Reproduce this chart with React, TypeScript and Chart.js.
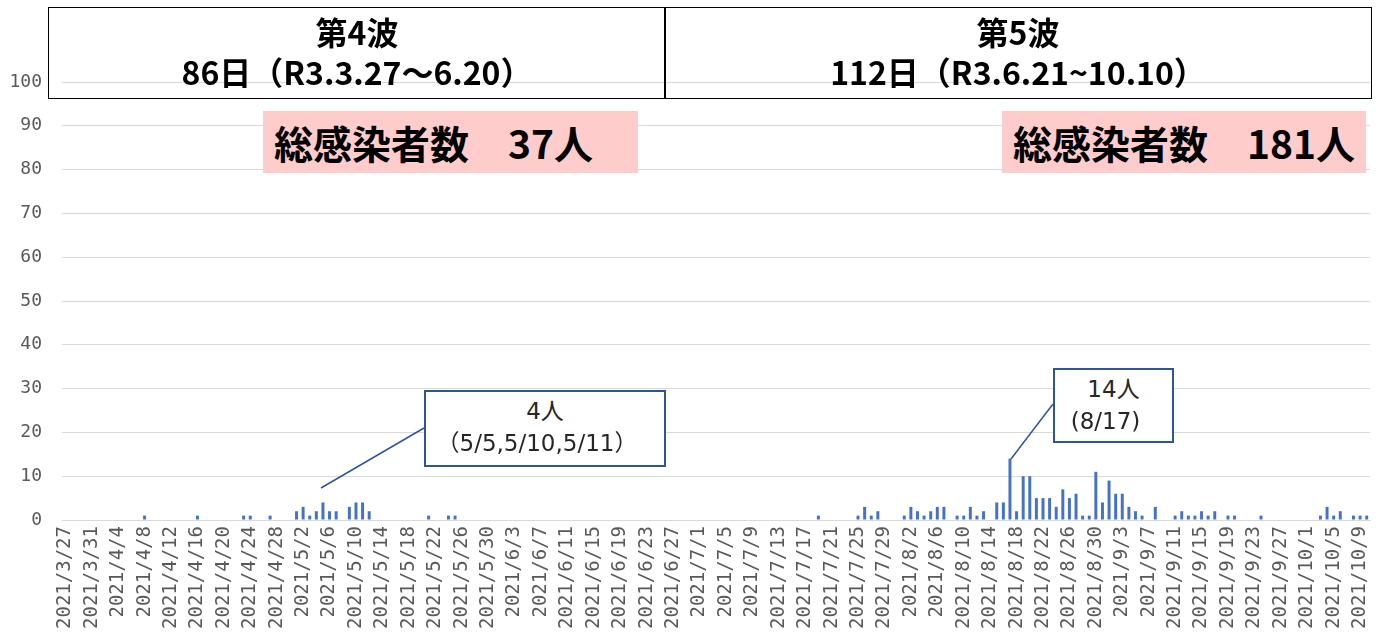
import React, { useEffect, useRef } from "react";
import { Chart, registerables } from "chart.js";

Chart.register(...registerables);

// [month, firstDay, lastDay] covered by the chart (year 2021)
const monthSpans: [number, number, number][] = [
  [3, 27, 31],
  [4, 1, 30],
  [5, 1, 31],
  [6, 1, 30],
  [7, 1, 31],
  [8, 1, 31],
  [9, 1, 30],
  [10, 1, 10],
];

const categories: string[] = [];
monthSpans.forEach(([m, d0, d1]) => {
  for (let d = d0; d <= d1; d++) categories.push(`2021/${m}/${d}`);
});

// daily new cases
const marchCases = [0, 0, 0, 0, 0];
const aprilCases = [
  0, 0, 0, 0, 0, 0, 0, 1, 0, 0,
  0, 0, 0, 0, 0, 1, 0, 0, 0, 0,
  0, 0, 1, 1, 0, 0, 1, 0, 0, 0,
];
const mayCases = [
  2, 3, 1, 2, 4, 2, 2, 0, 3, 4,
  4, 2, 0, 0, 0, 0, 0, 0, 0, 0,
  1, 0, 0, 1, 1, 0, 0, 0, 0, 0,
  0,
];
const juneCases = [
  0, 0, 0, 0, 0, 0, 0, 0, 0, 0,
  0, 0, 0, 0, 0, 0, 0, 0, 0, 0,
  0, 0, 0, 0, 0, 0, 0, 0, 0, 0,
];
const julyCases = [
  0, 0, 0, 0, 0, 0, 0, 0, 0, 0,
  0, 0, 0, 0, 0, 0, 0, 0, 1, 0,
  0, 0, 0, 0, 1, 3, 1, 2, 0, 0,
  0,
];
const augustCases = [
  1, 3, 2, 1, 2, 3, 3, 0, 1, 1,
  3, 1, 2, 0, 4, 4, 14, 2, 10, 10,
  5, 5, 5, 3, 7, 5, 6, 1, 1, 11,
  4,
];
const septemberCases = [
  9, 6, 6, 3, 2, 1, 0, 3, 0, 0,
  1, 2, 1, 1, 2, 1, 2, 0, 1, 1,
  0, 0, 0, 1, 0, 0, 0, 0, 0, 0,
];
const octoberCases = [0, 0, 1, 3, 1, 2, 0, 1, 1, 1];

const dailyCases = [
  ...marchCases,
  ...aprilCases,
  ...mayCases,
  ...juneCases,
  ...julyCases,
  ...augustCases,
  ...septemberCases,
  ...octoberCases,
];

const yTicks = { min: 0, max: 100, step: 10 };
const labelEvery = 4;

const waveHeaders = [
  { title: "第4波", range: "86日（R3.3.27〜6.20）" },
  { title: "第5波", range: "112日（R3.6.21~10.10）" },
];
const waveTotals = ["総感染者数　37人", "総感染者数　181人"];
const callouts = [
  { line1: "4人", line2: "（5/5,5/10,5/11）" },
  { line1: "14人", line2: "(8/17)" },
];

const W = 1386;
const H = 632;
const axisFont = "'DejaVu Sans Mono', monospace";
const jpFont = "'Noto Sans CJK JP', 'Noto Sans', sans-serif";
const calloutFont = "'DejaVu Sans', 'Noto Sans CJK JP', sans-serif";

export default function App() {
  const canvasRef = useRef<HTMLCanvasElement | null>(null);

  useEffect(() => {
    if (!canvasRef.current) return;
    const chart = new Chart(canvasRef.current, {
      type: "bar",
      data: {
        labels: categories,
        datasets: [
          {
            data: dailyCases,
            backgroundColor: "#4472c4",
            barPercentage: 0.45,
            categoryPercentage: 1,
          },
        ],
      },
      options: {
        responsive: false,
        maintainAspectRatio: false,
        animation: false,
        layout: { padding: { top: 82, right: 16, left: 0, bottom: 0 } },
        plugins: { legend: { display: false }, tooltip: { enabled: false } },
        scales: {
          x: {
            grid: { display: false, drawTicks: false },
            border: { display: true, color: "#d9d9d9" },
            ticks: {
              autoSkip: false,
              minRotation: 90,
              maxRotation: 90,
              padding: 6,
              color: "#595959",
              font: { family: axisFont, size: 19 },
              callback: (_v: any, i: number) =>
                i % labelEvery === 0 ? categories[i] : "",
            },
            afterFit: (s: any) => {
              s.height = 112;
              s.paddingLeft = 0;
              s.paddingRight = 0;
            },
          },
          y: {
            min: yTicks.min,
            max: yTicks.max,
            grid: { color: "#d9d9d9", drawTicks: false },
            border: { display: false },
            ticks: {
              stepSize: yTicks.step,
              padding: 20,
              color: "#595959",
              font: { family: axisFont, size: 18 },
            },
            afterFit: (s: any) => {
              s.width = 62;
            },
          },
        },
      },
    });
    return () => chart.destroy();
  }, []);

  const headerBox = (left: number, width: number, h: (typeof waveHeaders)[0]) => (
    <div
      style={{
        position: "absolute",
        left,
        top: 7,
        width,
        height: 92,
        boxSizing: "border-box",
        border: "1.5px solid #000",
        fontFamily: jpFont,
        fontWeight: 700,
        fontSize: 32,
        lineHeight: "40px",
        color: "#000",
        textAlign: "center",
        paddingTop: 3,
        whiteSpace: "pre",
      }}
    >
      <div>{h.title}</div>
      <div>{h.range}</div>
    </div>
  );

  const pinkBox = (left: number, width: number, text: string) => (
    <div
      style={{
        position: "absolute",
        left,
        top: 111,
        width,
        height: 62,
        background: "#ffcccc",
        fontFamily: jpFont,
        fontWeight: 700,
        fontSize: 39,
        lineHeight: "62px",
        paddingLeft: 11,
        boxSizing: "border-box",
        color: "#000",
        whiteSpace: "pre",
      }}
    >
      {text}
    </div>
  );

  const calloutBox = (
    left: number,
    top: number,
    width: number,
    height: number,
    c: (typeof callouts)[0],
    shift2: number
  ) => (
    <div
      style={{
        position: "absolute",
        left,
        top,
        width,
        height,
        boxSizing: "border-box",
        border: "2px solid #2f5597",
        background: "#fff",
        fontFamily: calloutFont,
        fontSize: 23,
        lineHeight: "32px",
        color: "#262626",
        textAlign: "center",
        paddingTop: 3,
        whiteSpace: "pre",
      }}
    >
      <div>{c.line1}</div>
      <div style={{ position: "relative", left: shift2 }}>{c.line2}</div>
    </div>
  );

  return (
    <div
      style={{
        position: "fixed",
        left: 0,
        top: 0,
        width: W,
        height: H,
        background: "#fff",
        overflow: "hidden",
      }}
    >
      <canvas
        ref={canvasRef}
        width={W}
        height={H}
        style={{ position: "absolute", left: 0, top: 0, display: "block" }}
      />
      {headerBox(48, 618, waveHeaders[0])}
      {headerBox(664, 708, waveHeaders[1])}
      {pinkBox(263, 375, waveTotals[0])}
      {pinkBox(1002, 364, waveTotals[1])}
      <svg
        width={W}
        height={H}
        style={{ position: "absolute", left: 0, top: 0, pointerEvents: "none" }}
      >
        <line x1={321} y1={488} x2={424} y2={428} stroke="#2f5597" strokeWidth={1.5} />
        <line x1={1011} y1={459} x2={1053} y2={404} stroke="#2f5597" strokeWidth={1.5} />
      </svg>
      {calloutBox(424, 390, 242, 77, callouts[0], -8)}
      {calloutBox(1053, 368, 121, 75, callouts[1], -8)}
    </div>
  );
}
